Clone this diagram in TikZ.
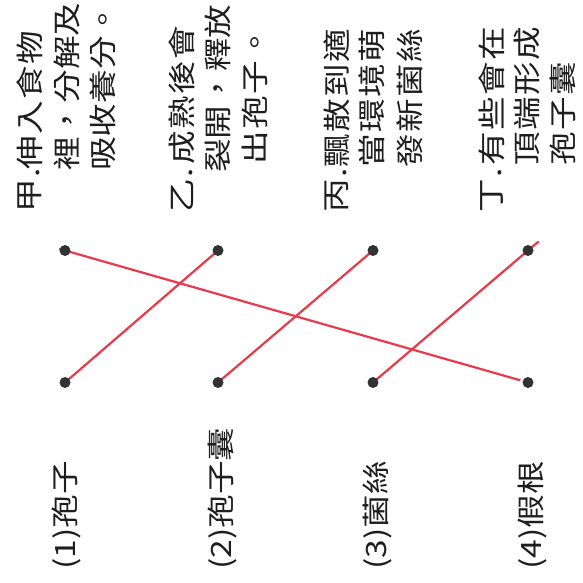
\documentclass[tikz,border=0pt]{standalone}
\usepackage{fontspec}
\newfontfamily\cjk{Noto Sans CJK TC}[FakeStretch=1.2,LetterSpace=5]
\newfontfamily\cjklab{Noto Sans CJK TC}[FakeStretch=1.2]
\usetikzlibrary{backgrounds}
\definecolor{penred}{RGB}{232,58,74}
\definecolor{dotgray}{RGB}{50,50,50}
\definecolor{ink}{RGB}{30,30,30}
\begin{document}
\begin{tikzpicture}[x=1pt,y=1pt,
  txt/.style={rotate=90,anchor=west,inner sep=0pt,text=ink,font=\cjk\fontsize{28}{34}\selectfont},
  tight/.style={rotate=90,anchor=west,inner sep=0pt,text=ink,font=\cjklab\fontsize{28}{34}\selectfont},
  lab/.style={rotate=90,anchor=west,inner sep=0pt,text=ink,font=\cjklab\fontsize{28}{34}\selectfont},
  dotnode/.style={circle,fill=dotgray,inner sep=0pt,minimum size=11pt},
  link/.style={draw=penred,line width=2.2pt}]
\useasboundingbox (0,0) rectangle (583,583);
% statements
\node[txt] (h1) at (30,370) {甲.};
\node[txt] (a1) at (30,413) {伸入食物};
\node[tight] (a2) at (67,412) {裡，分解及};
\node[tight] (a3) at (103,412) {吸收養分。};
\node[txt] (h2) at (182,370) {乙.};
\node[txt] (b1) at (182,418) {成熟後會};
\node[tight] (b2) at (218,410) {裂開，釋放};
\node[txt] (b3) at (255,418) {出孢子。};
\node[txt] (h3) at (337,370) {丙.};
\node[txt] (c1) at (337,415) {飄散到適};
\node[txt] (c2) at (372,415) {當環境萌};
\node[txt] (c3) at (410,415) {發新菌絲};
\node[txt] (h4) at (492,370) {丁.};
\node[txt] (d1) at (492,417) {有些會在};
\node[txt] (d2) at (527,417) {頂端形成};
\node[txt] (d3) at (563,417) {孢子囊};
% terms
\node[lab] (l1) at (67,13) {(1)孢子};
\node[lab] (l2) at (222,13) {(2)孢子囊};
\node[lab] (l3) at (377,13) {(3)菌絲};
\node[lab] (l4) at (532,13) {(4)假根};
% dots
\node[dotnode] (t1) at (65,332.5) {};
\node[dotnode] (t2) at (218,332.5) {};
\node[dotnode] (t3) at (373,332.5) {};
\node[dotnode] (t4) at (528,332.5) {};
\node[dotnode] (u1) at (65,200.5) {};
\node[dotnode] (u2) at (218,200.5) {};
\node[dotnode] (u3) at (373,200.5) {};
\node[dotnode] (u4) at (528,200.5) {};
\begin{scope}[on background layer]
\draw[link,shorten <=8pt,shorten >=-6pt] (u4.center) -- (t1.center);
\draw[link,shorten <=-2pt] (u1.center) -- (t2.center);
\draw[link] (u2.center) -- (t3.center);
\draw[link,shorten >=-14pt] (u3.center) -- (t4.center);
\end{scope}
\end{tikzpicture}
\end{document}
